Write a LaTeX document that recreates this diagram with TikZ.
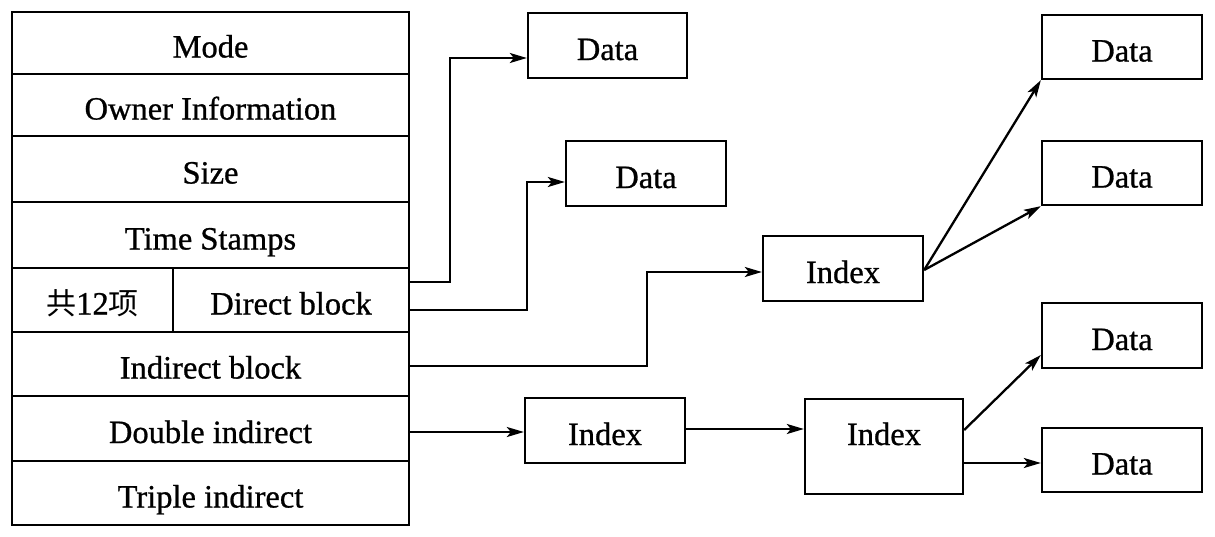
\documentclass[tikz,border=0pt]{standalone}
\usepackage{fontspec}
\setmainfont{Liberation Serif}[FakeBold=0.8]
\newfontfamily\cjk{Noto Sans CJK SC}
\usetikzlibrary{arrows.meta,calc}
\begin{document}
\begin{tikzpicture}[x=1pt,y=-1pt,
  every node/.style={font=\fontsize{32.5}{39}\selectfont, text height=29pt, text depth=0pt},
  cell/.style={draw, line width=2.3pt, inner sep=0pt, minimum width=397pt},
  box/.style={draw, line width=2.3pt, inner sep=0pt, minimum width=160pt, minimum height=65pt},
  arr/.style={line width=2.3pt, -{Stealth[length=17pt,width=10pt,inset=4pt]}}]
\useasboundingbox (0,0) rectangle (1215,536);
% inode table
\node[cell, minimum height=62pt] (mode) at (210.5,43) {Mode};
\node[cell, minimum height=62pt] (owner) at (210.5,105) {Owner Information};
\node[cell, minimum height=66pt] (size) at (210.5,169) {Size};
\node[cell, minimum height=66pt] (time) at (210.5,235) {Time Stamps};
\node[cell, minimum width=161pt, minimum height=64pt] (cnt) at (92.5,300) {{\cjk\fontsize{30}{36}\selectfont 共}12{\cjk\fontsize{30}{36}\selectfont 项}};
\node[cell, minimum width=236pt, minimum height=64pt] (dir) at (291,300) {Direct block};
\node[cell, minimum height=64pt] (ind) at (210.5,364) {Indirect block};
\node[cell, minimum height=65pt] (dbl) at (210.5,428.5) {Double indirect};
\node[cell, minimum height=64pt] (tri) at (210.5,493) {Triple indirect};
% blocks
\node[box, minimum width=159pt] (d1) at (607.5,45.5) {Data};
\node[box] (d2) at (646,173.5) {Data};
\node[box] (ix1) at (843,268.5) {Index};
\node[box] (ix2) at (605,430.5) {Index};
\node[box, minimum width=158pt, minimum height=95pt, label={[yshift=16pt]center:Index}] (ix3) at (884,446.5) {};
\node[box, minimum height=64pt] (d3) at (1122,47) {Data};
\node[box, minimum height=64pt] (d4) at (1122,173) {Data};
\node[box] (d5) at (1122,335.5) {Data};
\node[box, minimum height=64pt] (d6) at (1122,460) {Data};
% connectors
\draw[arr] ([yshift=18pt]dir.east) -- ++(40,0) |- ([yshift=-12.5pt]d1.west);
\draw[arr] ([yshift=-10pt]dir.east) -- ++(117,0) |- ([yshift=-8.5pt]d2.west);
\draw[arr] ([yshift=-2pt]ind.east) -- ++(237,0) |- ([yshift=-3.5pt]ix1.west);
\draw[arr] ([yshift=-3.5pt]dbl.east) -- ([yshift=-3.5pt]dbl.east -| ix2.west);
\draw[arr] ([yshift=1.5pt]ix2.east) -- ([yshift=1.5pt]ix2.east -| ix3.west);
\draw[arr] ([yshift=-1.5pt]ix1.east) -- (d3.south west);
\draw[arr] ([yshift=-1.5pt]ix1.east) -- (d4.south west);
\draw[arr] ([yshift=16.5pt]ix3.east) -- ([yshift=-19.5pt]d5.west);
\draw[arr] ([yshift=-16.5pt]ix3.east) -- ([yshift=-16.5pt]ix3.east -| d6.west);
\end{tikzpicture}
\end{document}
